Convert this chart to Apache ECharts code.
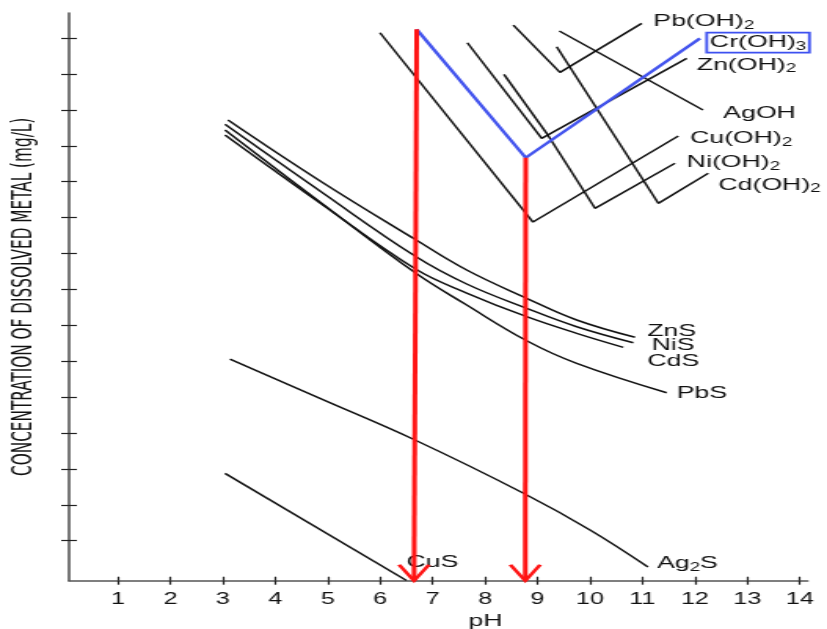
<!DOCTYPE html>
<html><head><meta charset="utf-8">
<script src="https://cdn.jsdelivr.net/npm/echarts@6/dist/echarts.min.js"></script>
<style>
html,body{margin:0;padding:0;background:#fff;overflow:hidden}
#wrap{width:827px;height:629px;overflow:hidden;position:relative}
#c{width:527px;height:629px;transform:scaleX(1.56926);transform-origin:0 0}
</style></head>
<body><div id="wrap"><div id="c"></div></div>
<script>
// ---------- data ----------
const xTicks = [1,2,3,4,5,6,7,8,9,10,11,12,13,14];
const yTicks = [0,1,2,3,4,5,6,7,8,9,10,11,12,13,14];
const xMin = 0.067, xMax = 14.15, yMin = -1.114, yMax = 14.7;

// metal sulfides (pH, relative log concentration)
const znsPH  = [3.098, 4.885, 6.663, 7.649, 8.793, 9.746, 10.858];
const znsC   = [11.719, 9.992, 8.396, 7.540, 6.752, 6.148, 5.666];
const nisPH  = [3.041, 4.852, 6.663, 7.649, 8.793, 9.746, 10.826];
const nisC   = [11.599, 9.741, 7.930, 7.151, 6.473, 5.961, 5.515];
const cdsPH  = [3.041, 4.852, 6.682, 7.649, 8.793, 9.746, 10.635];
const cdsC   = [11.301, 9.407, 7.560, 6.900, 6.240, 5.777, 5.387];
const pbsPH  = [3.041, 4.852, 6.682, 7.649, 8.793, 9.746, 11.462];
const pbsC   = [11.440, 9.435, 7.448, 6.565, 5.571, 4.942, 4.123];
const ag2sPH = [3.136, 4.852, 6.663, 8.723, 10.0, 11.106];
const ag2sC  = [5.061, 3.964, 2.805, 1.329, 0.300, -0.733];
const cusPH  = [3.041, 6.501];
const cusC   = [1.877, -1.109];

// metal hydroxides
const cuOhPH = [5.996, 8.913, 11.683];
const cuOhC  = [14.150, 8.877, 11.273];
const crOhPH = [6.696, 8.774, 12.097];
const crOhC  = [14.245, 10.669, 13.994];
const znOhPH = [7.661, 9.079, 11.844];
const znOhC  = [13.872, 11.209, 13.437];
const niOhPH = [8.360, 9.174, 10.095, 11.620];
const niOhC  = [12.989, 11.348, 9.259, 10.513];
const pbOhPH = [8.538, 9.428, 10.986];
const pbOhC  = [14.365, 13.047, 14.412];
const agOhPH = [9.415, 12.154];
const agOhC  = [14.198, 11.997];
const cdOhPH = [9.365, 11.302, 12.255];
const cdOhC  = [13.760, 9.398, 10.234];

// red arrows (from Cr(OH)3 curve down to the pH axis)
const arrowTopPH    = [6.696, 8.774];
const arrowBottomPH = [6.645, 8.766];
const arrowTopC     = [14.245, 10.669];

// label texts
const T = {
  pbOh: '{a|Pb(OH)}{s|2}', crOh: '{a|Cr(OH)}{s|3}', znOh: '{a|Zn(OH)}{s|2}',
  agOh: '{a|AgOH}', cuOh: '{a|Cu(OH)}{s|2}', niOh: '{a|Ni(OH)}{s|2}', cdOh: '{a|Cd(OH)}{s|2}',
  zns: '{a|ZnS}', nis: '{a|NiS}', cds: '{a|CdS}', pbs: '{a|PbS}', ag2s: '{a|Ag}{s|2}{a|S}', cus: '{a|CuS}'
};
const yName = 'CONCENTRATION OF DISSOLVED METAL (mg/L)';
const xName = 'pH';

// ---------- styles ----------
const FONT = '"Liberation Sans", Arial, Helvetica, sans-serif';
const rich = {
  a: {fontFamily: FONT, fontSize: 17, color: '#111', lineHeight: 20, verticalAlign: 'middle'},
  s: {fontFamily: FONT, fontSize: 12, color: '#111', lineHeight: 12, verticalAlign: 'bottom'}
};
function pts(xs, ys) { return xs.map((x, i) => [x, ys[i]]); }
function curve(xs, ys, text, off, extra) {
  return Object.assign({
    type: 'line', data: pts(xs, ys), showSymbol: false, symbol: 'none',
    smooth: false, silent: true, animation: false,
    lineStyle: {color: '#111', width: 1.5}, z: 2,
    endLabel: {show: true, formatter: text, distance: 0, offset: off, rich: rich}
  }, extra || {});
}
const smoothOpt = {smooth: 0.4};
const arrowPath = 'path://M0,0L10,10L20,0';

const series = [
  curve(znsPH, znsC, T.zns, [7.8, -5.6], smoothOpt),
  curve(nisPH, nisC, T.nis, [11.7, 2.3], smoothOpt),
  curve(cdsPH, cdsC, T.cds, [15.3, 13.7], smoothOpt),
  curve(pbsPH, pbsC, T.pbs, [6.4, 0.6], smoothOpt),
  curve(ag2sPH, ag2sC, T.ag2s, [5.7, -3.7], smoothOpt),
  curve(cusPH, cusC, T.cus, [0, -18.5]),
  curve(cuOhPH, cuOhC, T.cuOh, [7.5, 2.7]),
  curve(znOhPH, znOhC, T.znOh, [6.4, 6.5]),
  curve(niOhPH, niOhC, T.niOh, [7.5, -1]),
  curve(pbOhPH, pbOhC, T.pbOh, [7.4, -2]),
  curve(agOhPH, agOhC, T.agOh, [12.9, 3.3]),
  curve(cdOhPH, cdOhC, T.cdOh, [6.4, 11.7]),
  curve(crOhPH, crOhC, T.crOh, [4.3, 4.2], {
    lineStyle: {color: '#4354ee', width: 2.4}, z: 3,
    endLabel: {show: true, formatter: T.crOh, distance: 0, offset: [4.3, 4.2], rich: rich,
      borderColor: '#3d50f0', borderWidth: 1.8, padding: [0, 2, 0, 2]}
  })
];
arrowTopPH.forEach((p, i) => {
  series.push({
    type: 'line', silent: true, animation: false, z: 4,
    data: [[p, arrowTopC[i]], [arrowBottomPH[i], yMin]],
    showSymbol: true, showAllSymbol: true,
    symbol: (v, params) => params.dataIndex === 1 ? arrowPath : 'none',
    symbolSize: [19, 16], symbolOffset: [0, -8], symbolKeepAspect: false,
    itemStyle: {color: 'none', borderColor: '#ff1414', borderWidth: 2.4},
    lineStyle: {color: '#ff1414', width: 3}
  });
});

const axisLineStyle = {color: '#555', width: 1.6};
const tickStyle = {color: '#222', width: 1.2};

const option = {
  animation: false,
  backgroundColor: '#fff',
  grid: {left: 43.97, top: 13, width: 470.7, height: 567.7, containLabel: false, outerBoundsMode: 'none'},
  xAxis: [
    {type: 'value', min: xMin, max: xMax, position: 'bottom',
     axisLine: {show: true, onZero: false, lineStyle: axisLineStyle},
     axisTick: {show: true, inside: false, length: 4, customValues: xTicks, lineStyle: tickStyle},
     axisLabel: {show: true, customValues: xTicks, fontFamily: FONT, fontSize: 16, color: '#111', margin: 11},
     splitLine: {show: false},
     name: xName, nameLocation: 'middle', nameGap: 30,
     nameTextStyle: {fontFamily: FONT, fontSize: 17, color: '#111', padding: [0, 0, 0, 60]}},
    {type: 'value', min: xMin, max: xMax, position: 'bottom',
     axisLine: {show: false, onZero: false},
     axisTick: {show: true, inside: true, length: 4, customValues: xTicks, lineStyle: tickStyle},
     axisLabel: {show: false}, splitLine: {show: false}}
  ],
  yAxis: [
    {type: 'value', min: yMin, max: yMax, position: 'left',
     axisLine: {show: true, onZero: false, lineStyle: axisLineStyle},
     axisTick: {show: true, inside: false, length: 5, customValues: yTicks, lineStyle: tickStyle},
     axisLabel: {show: false}, splitLine: {show: false},
     name: yName, nameLocation: 'middle', nameGap: 20,
     nameTextStyle: {fontFamily: '"Liberation Sans Narrow", "DejaVu Sans Condensed", "Liberation Sans", sans-serif',
       fontSize: 17, color: '#111'}},
    {type: 'value', min: yMin, max: yMax, position: 'left',
     axisLine: {show: false, onZero: false},
     axisTick: {show: true, inside: true, length: 5, customValues: yTicks, lineStyle: tickStyle},
     axisLabel: {show: false}, splitLine: {show: false}}
  ],
  series: series
};
const chart = echarts.init(document.getElementById('c'), null, {renderer: 'canvas'});
chart.setOption(option);
</script>
</body></html>
